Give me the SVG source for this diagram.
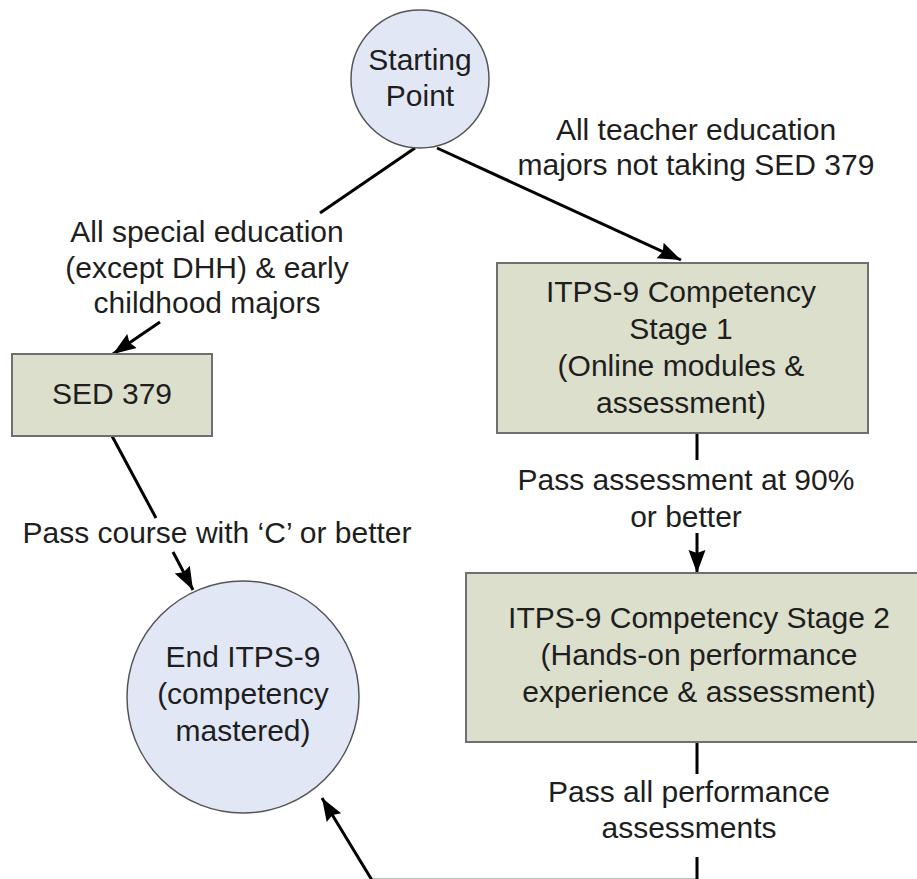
<svg xmlns="http://www.w3.org/2000/svg" width="917" height="879" viewBox="0 0 917 879">
<style>
.box{fill:#dcdfcb;stroke:#6f6f6f;stroke-width:2}
.circ{fill:#e2e7f5;stroke:#555;stroke-width:1.5}
.t{font-family:"Liberation Sans",Arial,sans-serif;font-size:30px;fill:#1e1e1e;text-anchor:middle}
.c{fill:none;stroke:#000;stroke-width:3}
</style>
<defs>
<marker id="ah" markerUnits="userSpaceOnUse" markerWidth="24" markerHeight="20" viewBox="0 0 24 20" refX="23" refY="10" orient="auto">
<path d="M0,1.5 L23,10 L0,18.5 L3,10 Z" fill="#000"/>
</marker>
</defs>
<rect width="917" height="879" fill="#fff"/>
<g id="connectors">
<path class="c" d="M415,148 L320,213"/>
<path class="c" d="M160,322 L113,354" marker-end="url(#ah)"/>
<path class="c" d="M437,148 L681,260" marker-end="url(#ah)"/>
<path class="c" d="M112,436 L156,518"/>
<path class="c" d="M173,552 L193,590" marker-end="url(#ah)"/>
<path class="c" d="M697,433 L697,460"/>
<path class="c" d="M697,533 L697,573" marker-end="url(#ah)"/>
<path class="c" d="M697,742 L697,774"/>
<path class="c" d="M697,857 L697,880.2 L372,880.2 L322,798" marker-end="url(#ah)"/>
</g>
<g id="start">
<circle class="circ" cx="420" cy="79" r="69"/>
<text class="t" x="420" y="70">Starting</text>
<text class="t" x="420" y="106">Point</text>
</g>
<g id="sed379">
<rect class="box" x="12" y="354" width="200" height="82"/>
<text class="t" x="112" y="404">SED 379</text>
</g>
<g id="stage1">
<rect class="box" x="497" y="263" width="371" height="170"/>
<text class="t" x="681" y="302">ITPS-9 Competency</text>
<text class="t" x="681" y="339">Stage 1</text>
<text class="t" x="681" y="376">(Online modules &amp;</text>
<text class="t" x="681" y="413">assessment)</text>
</g>
<g id="stage2">
<rect class="box" x="466" y="573" width="466" height="169"/>
<text class="t" x="699" y="628">ITPS-9 Competency Stage 2</text>
<text class="t" x="699" y="665">(Hands-on performance</text>
<text class="t" x="699" y="702">experience &amp; assessment)</text>
</g>
<g id="end">
<circle class="circ" cx="243" cy="697" r="116"/>
<text class="t" x="243" y="667">End ITPS-9</text>
<text class="t" x="243" y="704">(competency</text>
<text class="t" x="243" y="741">mastered)</text>
</g>
<g id="labels">
<text class="t" x="207" y="242">All special education</text>
<text class="t" x="207" y="278">(except DHH) &amp; early</text>
<text class="t" x="207" y="313">childhood majors</text>
<text class="t" x="696" y="140">All teacher education</text>
<text class="t" x="696" y="175">majors not taking SED 379</text>
<text class="t" x="217" y="543">Pass course with ‘C’ or better</text>
<text class="t" x="686" y="490">Pass assessment at 90%</text>
<text class="t" x="686" y="527">or better</text>
<text class="t" x="689" y="802">Pass all performance</text>
<text class="t" x="689" y="838">assessments</text>
</g>
</svg>
